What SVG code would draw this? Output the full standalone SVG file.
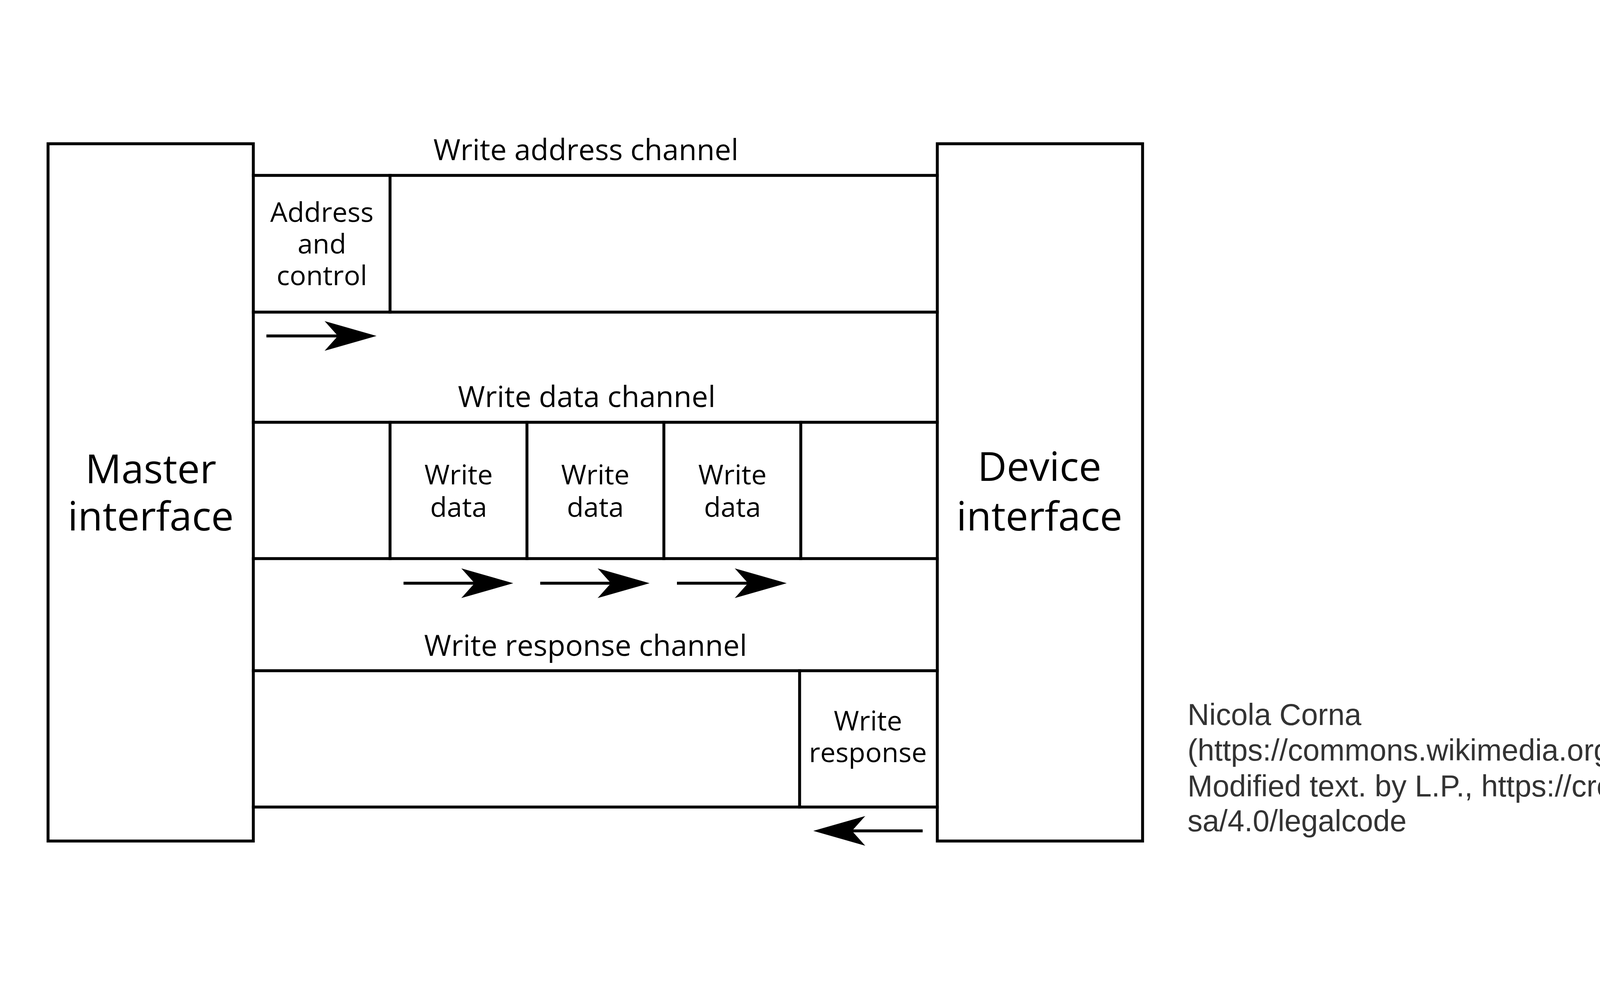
<svg xmlns="http://www.w3.org/2000/svg" width="6299" height="2519" viewBox="0 0 6299 2519">
  <style>
    .box { fill: #ffffff; stroke: #000000; stroke-width: 7.5; }
    .ln { fill: none; stroke: #000000; stroke-width: 7.5; stroke-linecap: square; }
    .arr { fill: none; stroke: #000000; stroke-width: 7.5; stroke-linecap: butt; marker-end: url(#head); }
    .lbl { font-family: "Open Sans", "Noto Sans", "DejaVu Sans", sans-serif; fill: #000000; text-anchor: middle; }
    .ch { font-size: 75px; }
    .cell { font-size: 70px; }
    .big { font-size: 103px; }
    .attr { font-family: "Liberation Sans", Arial, sans-serif; font-size: 77px; fill: #333333; }
  </style>
  <defs>
    <marker id="head" viewBox="-40 -40 145 80" markerWidth="145" markerHeight="80" refX="0" refY="0" markerUnits="userSpaceOnUse" orient="auto">
      <path d="M99,0 L-34,-38 L0,0 L-34,38 Z" fill="#000000"/>
    </marker>
  </defs>
  <rect width="6299" height="2519" fill="#ffffff"/>

  <g id="master">
    <rect class="box" x="123" y="368" width="525.5" height="1785"/>
    <text class="lbl big" x="386" y="1237">Master</text>
    <text class="lbl big" x="386" y="1358">interface</text>
  </g>

  <g id="device">
    <rect class="box" x="2399.5" y="368" width="525.5" height="1785"/>
    <text class="lbl big" x="2661" y="1231">Device</text>
    <text class="lbl big" x="2661" y="1358">interface</text>
  </g>

  <g id="write-address-channel">
    <text class="lbl ch" x="1500" y="410">Write address channel</text>
    <line class="ln" x1="648.5" y1="449" x2="2399.5" y2="449"/>
    <line class="ln" x1="648.5" y1="799" x2="2399.5" y2="799"/>
  </g>
  <g id="address-and-control">
    <line class="ln" x1="998.5" y1="449" x2="998.5" y2="799"/>
    <text class="lbl cell" x="824" y="568">Address</text>
    <text class="lbl cell" x="824" y="649">and</text>
    <text class="lbl cell" x="824" y="730">control</text>
  </g>

  <g id="write-data-channel">
    <text class="lbl ch" x="1502" y="1042">Write data channel</text>
    <line class="ln" x1="648.5" y1="1081" x2="2399.5" y2="1081"/>
    <line class="ln" x1="648.5" y1="1430" x2="2399.5" y2="1430"/>
  </g>
  <g id="write-data-1">
    <line class="ln" x1="998.5" y1="1081" x2="998.5" y2="1430"/>
    <text class="lbl cell" x="1174" y="1240">Write</text>
    <text class="lbl cell" x="1174" y="1323">data</text>
  </g>
  <g id="write-data-2">
    <line class="ln" x1="1349" y1="1081" x2="1349" y2="1430"/>
    <text class="lbl cell" x="1524" y="1240">Write</text>
    <text class="lbl cell" x="1524" y="1323">data</text>
  </g>
  <g id="write-data-3">
    <line class="ln" x1="1699.5" y1="1081" x2="1699.5" y2="1430"/>
    <line class="ln" x1="2050" y1="1081" x2="2050" y2="1430"/>
    <text class="lbl cell" x="1875" y="1240">Write</text>
    <text class="lbl cell" x="1875" y="1323">data</text>
  </g>

  <g id="write-response-channel">
    <text class="lbl ch" x="1499" y="1679">Write response channel</text>
    <line class="ln" x1="648.5" y1="1717" x2="2399.5" y2="1717"/>
    <line class="ln" x1="648.5" y1="2066" x2="2399.5" y2="2066"/>
  </g>
  <g id="write-response">
    <line class="ln" x1="2047" y1="1717" x2="2047" y2="2066"/>
    <text class="lbl cell" x="2222" y="1870">Write</text>
    <text class="lbl cell" x="2222" y="1951">response</text>
  </g>

  <g id="connectors">
    <line class="arr" x1="682" y1="860" x2="865" y2="860"/>
    <line class="arr" x1="1033" y1="1493" x2="1215" y2="1493"/>
    <line class="arr" x1="1383" y1="1493" x2="1564" y2="1493"/>
    <line class="arr" x1="1733" y1="1493" x2="1915" y2="1493"/>
    <line class="arr" x1="2362" y1="2127" x2="2181" y2="2127"/>
  </g>

  <g id="attribution">
    <text class="attr" x="3040" y="1856">Nicola Corna</text>
    <text class="attr" x="3040" y="1947">(https://commons.wikimedia.org/wiki/File:AXI_write_channels.svg),</text>
    <text class="attr" x="3040" y="2039">Modified text. by L.P., https://creativecommons.org/licenses/by-</text>
    <text class="attr" x="3040" y="2128">sa/4.0/legalcode</text>
  </g>
</svg>
